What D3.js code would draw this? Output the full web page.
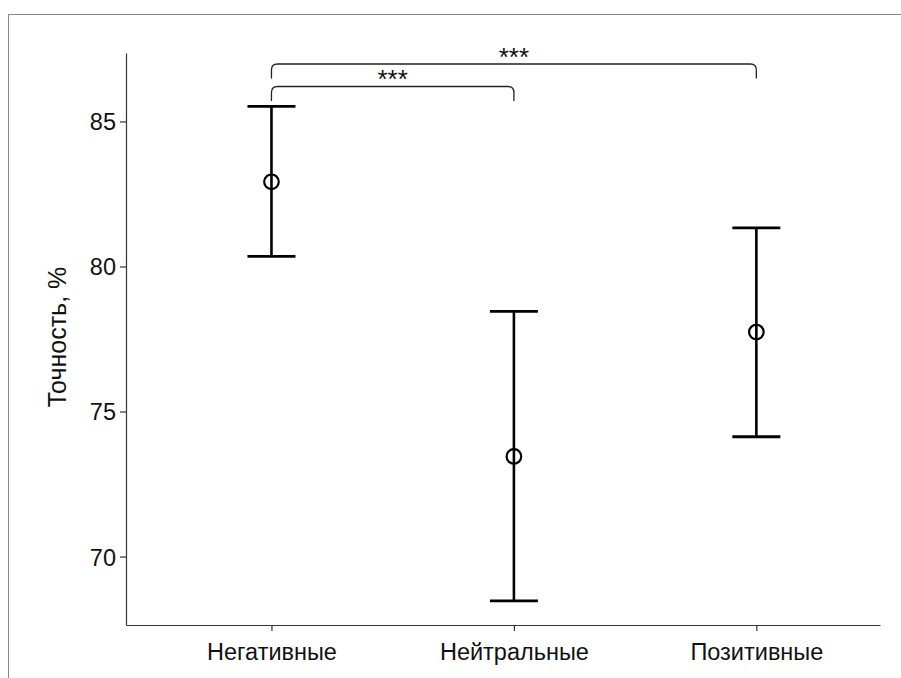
<!DOCTYPE html>
<meta charset="utf-8">
<style>
body{
	background-color: #fff;
	margin: 0px;
}
svg{
	display: block;
	font-family: "Liberation Sans", Arial, sans-serif;
}
</style>
<body></body>
<script src="https://cdn.jsdelivr.net/npm/d3@7"></script>
<script>

var categories = ['Негативные', 'Нейтральные', 'Позитивные']
var means = [82.92, 73.45, 77.74]
var upper = [85.52, 78.45, 81.33]
var lower = [80.35, 68.47, 74.13]
var yTicks = [70, 75, 80, 85]
// pairs compared, with their label
var pairs = [
	{a: 0, b: 1, label: '***', level: 0},
	{a: 0, b: 2, label: '***', level: 1}
]

var width = 901, height = 678

var svg = d3.select('body')
	.append('svg')
		.attr('width', width)
		.attr('height', height)

// outer frame, only top and left edges show
svg.append('rect')
		.attr('x', 8.5).attr('y', 14.5)
		.attr('width', width).attr('height', height)
		.attr('fill', 'none')
		.attr('stroke', '#8a8a8a')

var x = d3.scaleLinear().domain([-0.6, 2.51]).range([126, 880])
var y = d3.scaleLinear().domain([67.64, 87.36]).range([625, 53])

var yAxis = svg.append('g')
		.attr('transform', 'translate(126,0)')
		.call(d3.axisLeft(y).tickValues(yTicks).tickSize(6).tickPadding(4).tickSizeOuter(0))
var xAxis = svg.append('g')
		.attr('transform', 'translate(0,625)')
		.call(d3.axisBottom(x).tickValues([0, 1, 2]).tickFormat(function(d){ return categories[d] })
			.tickSize(6).tickPadding(12).tickSizeOuter(0))

svg.selectAll('.domain, .tick line').attr('stroke', '#333').attr('stroke-width', 1.2)
svg.selectAll('.tick text').attr('fill', '#111').style('font-size', '23.5px')
	.style('font-family', '"Liberation Sans", Arial, sans-serif')
yAxis.selectAll('.tick text').attr('dy', '0.36em')

svg.append('text')
		.attr('transform', 'translate(66,337) rotate(-90)')
		.attr('text-anchor', 'middle')
		.style('font-size', '25px')
		.attr('fill', '#111')
		.text('Точность, %')

// error bars
var bars = svg.selectAll('g.bar').data(categories).enter().append('g').attr('class', 'bar')
var capW = 24
bars.append('line')
		.attr('x1', function(d, i){ return x(i) }).attr('x2', function(d, i){ return x(i) })
		.attr('y1', function(d, i){ return y(upper[i]) }).attr('y2', function(d, i){ return y(lower[i]) })
		.attr('stroke', '#000').attr('stroke-width', 2.6)
bars.append('line')
		.attr('x1', function(d, i){ return x(i) - capW }).attr('x2', function(d, i){ return x(i) + capW })
		.attr('y1', function(d, i){ return y(upper[i]) }).attr('y2', function(d, i){ return y(upper[i]) })
		.attr('stroke', '#000').attr('stroke-width', 2.8)
bars.append('line')
		.attr('x1', function(d, i){ return x(i) - capW }).attr('x2', function(d, i){ return x(i) + capW })
		.attr('y1', function(d, i){ return y(lower[i]) }).attr('y2', function(d, i){ return y(lower[i]) })
		.attr('stroke', '#000').attr('stroke-width', 2.8)
bars.append('circle')
		.attr('cx', function(d, i){ return x(i) })
		.attr('cy', function(d, i){ return y(means[i]) })
		.attr('r', 7.3)
		.attr('fill', 'none')
		.attr('stroke', '#000').attr('stroke-width', 2.2)

// significance brackets
var r = 6
pairs.forEach(function(p){
	var top = 86.5 - p.level * 22.5
	var bot = top + 14.5
	var x1 = x(p.a), x2 = x(p.b)
	var path = 'M' + x1 + ',' + bot + ' L' + x1 + ',' + (top + r)
		+ ' Q' + x1 + ',' + top + ' ' + (x1 + r) + ',' + top
		+ ' L' + (x2 - r) + ',' + top
		+ ' Q' + x2 + ',' + top + ' ' + x2 + ',' + (top + r)
		+ ' L' + x2 + ',' + bot
	svg.append('path')
			.attr('d', path)
			.attr('fill', 'none')
			.attr('stroke', '#222').attr('stroke-width', 1.3)
	svg.append('text')
			.attr('x', (x1 + x2) / 2)
			.attr('y', top + 1.5)
			.attr('text-anchor', 'middle')
			.style('font-size', '26px')
			.attr('fill', '#111')
			.text(p.label)
})

</script>
